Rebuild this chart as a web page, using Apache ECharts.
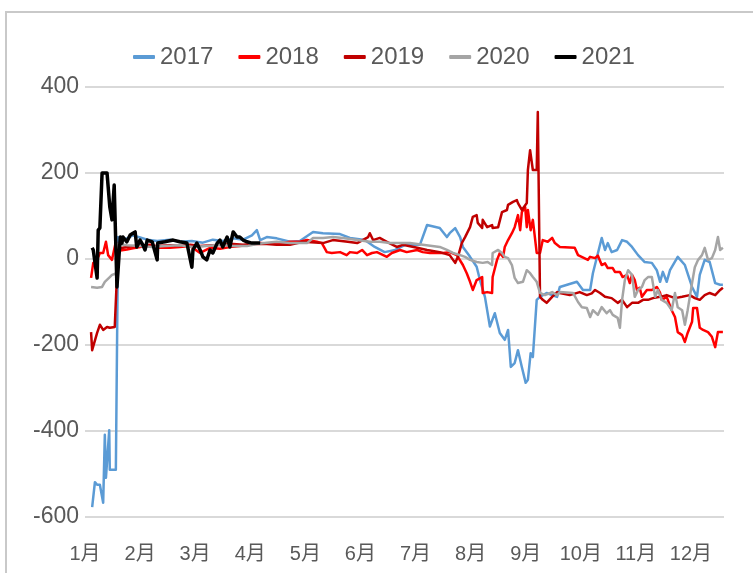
<!DOCTYPE html>
<html>
<head>
<meta charset="utf-8">
<script src="https://cdn.jsdelivr.net/npm/echarts@6/dist/echarts.min.js"></script>
<style>
  html, body { margin: 0; padding: 0; background: #fff; }
  #main { width: 753px; height: 573px; }
</style>
</head>
<body>
<div id="main"></div>
<script>
// x = month offset from 1 Jan (0 = 1月, 1 = 2月 ...), y = value
var monthLabels = ['1月', '2月', '3月', '4月', '5月', '6月', '7月', '8月', '9月', '10月', '11月', '12月'];
var seriesNames = ['2017', '2018', '2019', '2020', '2021'];
var seriesColors = ['#5B9BD5', '#FF0000', '#C00000', '#A5A5A5', '#000000'];

var s2017 = [
  [0.13,-577],[0.18,-519],[0.22,-525],[0.27,-525],[0.33,-567],[0.36,-409],[0.38,-509],[0.44,-398],[0.45,-490],
  [0.56,-490],[0.60,51],[0.64,45],[0.76,48],[0.87,55],[1.00,50],[1.13,45],[1.31,42],[1.54,45],[1.72,40],
  [1.94,42],[2.14,38],[2.32,45],[2.50,42],[2.69,48],[2.87,45],[3.03,55],[3.12,67],[3.18,44],[3.30,51],
  [3.48,48],[3.72,40],[3.90,42],[4.14,63],[4.32,60],[4.63,58],[4.81,49],[5.08,44],[5.26,28],[5.44,16],
  [5.63,21],[5.81,33],[6.08,33],[6.21,79],[6.44,72],[6.57,51],[6.62,60],[6.72,72],[6.81,51],[6.86,28],
  [6.99,5],[7.11,-18],[7.17,-49],[7.26,-88],[7.35,-157],[7.44,-126],[7.53,-172],[7.62,-188],[7.68,-165],
  [7.73,-251],[7.80,-242],[7.86,-212],[7.93,-251],[8.00,-288],[8.04,-281],[8.09,-219],[8.13,-228],[8.20,-95],
  [8.26,-88],[8.38,-79],[8.57,-88],[8.62,-65],[8.93,-53],[9.04,-72],[9.17,-72],[9.22,-33],[9.38,49],[9.44,21],
  [9.49,37],[9.56,16],[9.66,21],[9.75,44],[9.84,40],[9.93,28],[10.04,9],[10.16,-7],[10.29,-9],[10.38,-26],
  [10.44,-53],[10.49,-30],[10.56,-53],[10.62,-26],[10.76,5],[10.89,-14],[11.02,-65],[11.11,-88],[11.16,-37],
  [11.25,-2],[11.34,-7],[11.44,-56],[11.53,-60],[11.58,-60]
];

var s2018 = [
  [0.11,-44],[0.15,-9],[0.22,-2],[0.27,14],[0.33,14],[0.38,40],[0.42,9],[0.49,-2],[0.56,40],[0.60,14],
  [0.64,20],[0.76,22],[0.87,25],[1.00,28],[1.18,33],[1.36,26],[1.54,26],[1.72,28],[1.91,30],[2.09,14],
  [2.27,26],[2.45,24],[2.63,28],[2.81,30],[2.99,33],[3.18,37],[3.48,35],[3.72,40],[3.90,40],[4.03,44],
  [4.21,40],[4.30,37],[4.39,16],[4.48,14],[4.63,16],[4.75,9],[4.81,16],[4.94,14],[5.03,21],[5.12,9],
  [5.21,14],[5.30,16],[5.48,5],[5.57,14],[5.72,21],[5.84,16],[6.03,21],[6.13,16],[6.26,14],[6.39,14],
  [6.50,14],[6.62,16],[6.75,9],[6.86,-14],[6.93,-33],[6.99,-53],[7.04,-72],[7.11,-49],[7.21,-42],[7.22,-79],
  [7.30,-77],[7.39,-79],[7.40,-42],[7.48,-2],[7.53,14],[7.59,5],[7.62,28],[7.68,44],[7.75,60],[7.80,74],
  [7.86,102],[7.90,67],[7.93,109],[7.99,121],[8.02,74],[8.04,114],[8.09,67],[8.13,91],[8.20,14],[8.26,14],
  [8.31,44],[8.40,40],[8.48,49],[8.53,37],[8.62,28],[8.89,26],[8.95,9],[9.13,-2],[9.17,5],[9.26,2],
  [9.31,8],[9.38,-14],[9.44,-10],[9.49,-21],[9.58,-21],[9.62,-30],[9.71,-30],[9.76,-42],[9.84,-37],
  [9.89,-56],[9.93,-37],[9.98,-49],[10.02,-72],[10.07,-67],[10.11,-88],[10.20,-72],[10.29,-72],[10.38,-65],
  [10.44,-79],[10.47,-95],[10.56,-88],[10.65,-119],[10.71,-135],[10.76,-170],[10.84,-177],[10.89,-193],
  [10.94,-172],[11.02,-146],[11.04,-114],[11.11,-114],[11.16,-160],[11.22,-165],[11.31,-170],[11.38,-181],
  [11.44,-205],[11.49,-170],[11.58,-170]
];

var s2019 = [
  [0.11,-170],[0.13,-212],[0.22,-172],[0.27,-153],[0.33,-165],[0.40,-158],[0.45,-160],[0.54,-158],[0.56,-155],
  [0.60,21],[0.64,25],[0.76,28],[0.91,30],[1.09,32],[1.31,30],[1.54,32],[1.72,30],[1.91,33],[2.09,30],
  [2.32,32],[2.50,33],[2.69,35],[2.87,33],[3.03,35],[3.30,35],[3.48,33],[3.72,33],[3.96,40],[4.32,37],
  [4.50,44],[4.77,40],[4.94,37],[5.14,51],[5.17,60],[5.23,44],[5.35,49],[5.48,40],[5.66,28],[5.77,33],
  [6.03,26],[6.21,21],[6.44,16],[6.62,9],[6.72,-9],[6.77,5],[6.84,37],[6.90,51],[6.99,74],[7.04,98],
  [7.11,102],[7.13,84],[7.21,72],[7.22,91],[7.30,74],[7.39,79],[7.40,72],[7.50,74],[7.57,109],[7.66,114],
  [7.68,126],[7.77,133],[7.84,137],[7.86,130],[7.93,114],[8.02,130],[8.04,207],[8.08,253],[8.13,207],
  [8.20,207],[8.22,342],[8.26,-88],[8.31,-95],[8.38,-102],[8.48,-88],[8.57,-77],[8.62,-79],[8.80,-84],
  [8.98,-77],[9.11,-84],[9.20,-80],[9.26,-72],[9.35,-79],[9.44,-88],[9.56,-91],[9.67,-102],[9.75,-95],
  [9.84,-112],[9.93,-102],[10.04,-102],[10.13,-95],[10.22,-95],[10.31,-91],[10.44,-88],[10.56,-84],
  [10.71,-91],[10.84,-88],[10.98,-84],[11.07,-91],[11.16,-95],[11.25,-84],[11.34,-79],[11.44,-84],
  [11.53,-72],[11.58,-67]
];

var s2020 = [
  [0.11,-65],[0.22,-67],[0.31,-65],[0.36,-53],[0.45,-42],[0.49,-37],[0.54,-35],[0.58,-30],[0.60,35],
  [0.76,32],[1.00,30],[1.22,28],[1.45,30],[1.72,32],[1.96,28],[2.21,30],[2.45,33],[2.69,30],[2.94,30],
  [3.12,35],[3.30,38],[3.48,40],[3.72,37],[4.03,37],[4.14,49],[4.32,49],[4.50,51],[4.68,49],[4.94,44],
  [5.17,40],[5.35,40],[5.54,37],[5.72,37],[5.90,37],[6.13,33],[6.44,28],[6.57,21],[6.68,14],[6.81,9],
  [6.90,5],[6.99,-2],[7.11,-7],[7.22,-9],[7.31,-7],[7.39,-14],[7.40,14],[7.50,21],[7.57,14],[7.62,5],
  [7.68,2],[7.75,-14],[7.80,-44],[7.86,-56],[7.95,-53],[8.02,-26],[8.08,-33],[8.13,-42],[8.20,-53],
  [8.26,-79],[8.35,-84],[8.48,-77],[8.57,-84],[8.62,-77],[8.86,-79],[8.95,-100],[9.02,-112],[9.11,-114],
  [9.17,-135],[9.22,-119],[9.31,-130],[9.38,-112],[9.47,-126],[9.53,-119],[9.58,-130],[9.67,-137],
  [9.71,-160],[9.75,-95],[9.80,-49],[9.86,-26],[9.93,-37],[9.98,-88],[10.04,-72],[10.11,-65],[10.16,-49],
  [10.22,-42],[10.29,-42],[10.35,-88],[10.40,-72],[10.47,-95],[10.56,-102],[10.65,-119],[10.71,-79],
  [10.76,-112],[10.84,-119],[10.89,-153],[10.94,-119],[11.02,-56],[11.07,-19],[11.13,-2],[11.20,9],
  [11.25,26],[11.31,-2],[11.38,2],[11.44,21],[11.49,51],[11.53,21],[11.58,26]
];

var s2021 = [
  [0.13,26],[0.15,21],[0.22,-44],[0.24,67],[0.27,72],[0.30,74],[0.31,200],[0.40,200],[0.45,121],[0.49,91],
  [0.53,172],[0.58,-65],[0.60,-65],[0.64,51],[0.67,37],[0.69,51],[0.76,40],[0.82,56],[0.87,60],[0.91,63],
  [0.94,28],[1.00,44],[1.05,33],[1.09,21],[1.13,44],[1.22,40],[1.31,-2],[1.32,37],[1.45,40],[1.60,44],
  [1.72,40],[1.85,37],[1.94,-19],[1.96,21],[2.03,37],[2.09,21],[2.14,5],[2.21,-2],[2.27,21],[2.32,14],
  [2.40,37],[2.45,44],[2.50,28],[2.58,51],[2.63,28],[2.69,63],[2.76,51],[2.81,51],[2.87,44],[2.94,40],
  [3.03,37],[3.12,37],[3.18,37]
];

var allData = [s2017, s2018, s2019, s2020, s2021];
var lineWidths = [2.5, 2.5, 2.5, 2.5, 3.5];

var font = "'Liberation Sans', 'Noto Sans CJK SC', sans-serif";
var myChart = echarts.init(document.getElementById('main'));

var option = {
  animation: false,
  backgroundColor: '#fff',
  color: seriesColors,
  graphic: [{
    type: 'rect',
    shape: { x: 6, y: 12, width: 800, height: 620 },
    style: { fill: 'none', stroke: '#c9c9c9', lineWidth: 2 },
    silent: true
  }],
  legend: {
    top: 40,
    left: 128,
    itemWidth: 22,
    itemHeight: 4,
    itemGap: 25,
    icon: 'roundRect',
    textStyle: { color: '#595959', fontSize: 24, fontFamily: font },
    data: seriesNames
  },
  grid: { left: 85, right: 29, top: 87, bottom: 56, containLabel: false },
  xAxis: {
    type: 'value',
    min: 0,
    max: 11.6,
    interval: 1,
    axisLine: { show: false },
    axisTick: { show: false },
    splitLine: { show: false },
    axisLabel: {
      color: '#595959',
      fontSize: 20,
      fontFamily: font,
      margin: 27,
      showMaxLabel: false,
      formatter: function (v) {
        var i = Math.round(v);
        return Math.abs(v - i) < 1e-6 && monthLabels[i] ? monthLabels[i] : '';
      }
    }
  },
  yAxis: {
    type: 'value',
    min: -600,
    max: 400,
    interval: 200,
    axisLine: { show: false },
    axisTick: { show: false },
    splitLine: { lineStyle: { color: '#d9d9d9', width: 2 } },
    axisLabel: { color: '#595959', fontSize: 23, fontFamily: font, margin: 6 }
  },
  series: seriesNames.map(function (name, i) {
    return {
      name: name,
      type: 'line',
      data: allData[i],
      showSymbol: false,
      symbol: 'none',
      lineStyle: { width: lineWidths[i], color: seriesColors[i], join: 'round' },
      z: 2 + i
    };
  })
};

myChart.setOption(option);
</script>
</body>
</html>
